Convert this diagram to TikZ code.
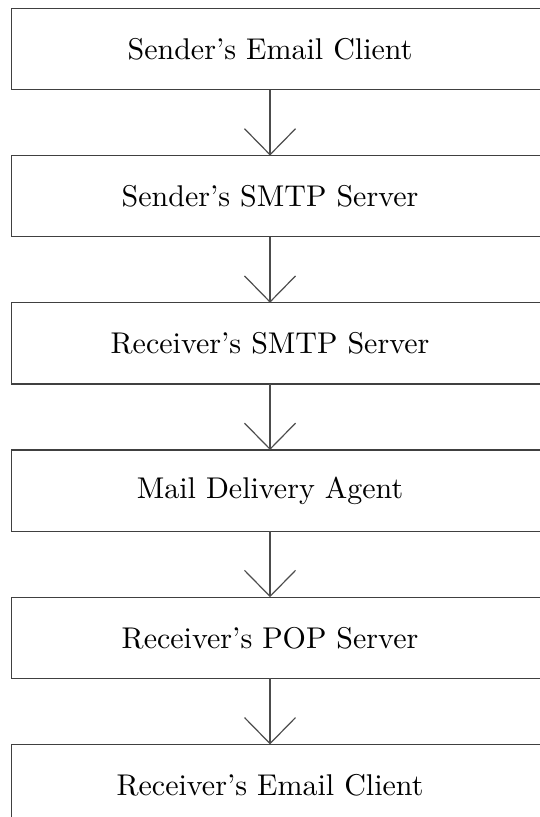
\documentclass[tikz,border=0pt]{standalone}
\usepackage{tikz}
\usetikzlibrary{arrows.meta,positioning}

\begin{document}
\begin{tikzpicture}[
  stage/.style={minimum width=172pt,minimum height=26.67pt,inner sep=0pt},
  flow/.style={-{Straight Barb[length=8.67pt,width=17pt]},line width=0.4pt,draw=black!70}]
  \useasboundingbox (0,0) rectangle (179.67pt,-272.33pt);
  \node[stage] (s1) at (90pt,-16.33pt) {Sender's Email Client};
  \node[stage,below=22pt of s1] (s2) {Sender's SMTP Server};
  \node[stage,below=22pt of s2] (s3) {Receiver's SMTP Server};
  \node[stage,below=22pt of s3] (s4) {Mail Delivery Agent};
  \node[stage,below=22pt of s4] (s5) {Receiver's POP Server};
  \node[stage,below=22pt of s5] (s6) {Receiver's Email Client};
  % frames run on past the right edge of the page
  \foreach \n in {s1,s2,s3,s4,s5,s6}
    \draw[line width=0.4pt,draw=black!75] (\n.north west) rectangle ([xshift=30pt]\n.south east);
  \foreach \a/\b in {s1/s2,s2/s3,s3/s4,s4/s5,s5/s6}
    \draw[flow] (\a) -- (\b);
\end{tikzpicture}
\end{document}
